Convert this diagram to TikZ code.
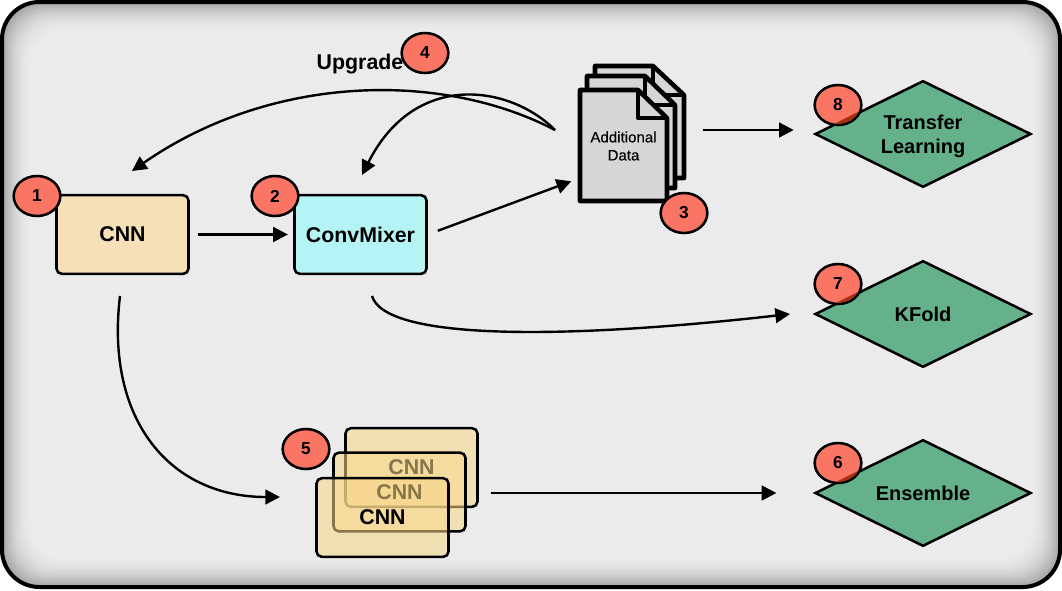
\documentclass[tikz,border=0pt]{standalone}
\usepackage{fontspec}
\setmainfont{Liberation Sans}
\newfontfamily\medfont[FakeBold=0.25]{Liberation Sans}
\usetikzlibrary{arrows.meta,shapes.geometric}

\definecolor{panelbg}{HTML}{EBEBEB}
\definecolor{cnnfill}{HTML}{F5E0B7}
\definecolor{stackfill}{HTML}{F8D78A}
\definecolor{mixerfill}{HTML}{B4F4F4}
\definecolor{badgefill}{HTML}{FB7564}
\definecolor{badgedark}{HTML}{A8300F}
\definecolor{diamondfill}{HTML}{64B18B}
\definecolor{pagefill}{HTML}{D6D6D6}

\tikzset{every picture/.style={line width=1.9pt}}
\tikzset{
	boxnode/.style={draw,rounded corners=4pt,minimum width=99pt,minimum height=59pt,inner sep=0pt,font=\bfseries\fontsize{16}{18}\selectfont},
	stacknode/.style={boxnode,fill=stackfill,fill opacity=0.55,text opacity=1},
	badgenode/.style={draw,fill=badgefill,ellipse,minimum width=35pt,minimum height=30pt,inner sep=0pt,font=\bfseries\fontsize{13}{15}\selectfont},
	choicenode/.style={draw,fill=diamondfill,diamond,aspect=2,minimum width=162pt,minimum height=80pt,inner sep=0pt,align=center,font=\bfseries\fontsize{15}{18}\selectfont},
	arrowline/.style={-{Triangle[length=11pt,width=11pt]},line width=1.8pt},
	pageline/.style={draw,fill=pagefill,line width=3.4pt,line join=round},
}

\begin{document}
\begin{tikzpicture}[x=0.75pt,y=0.75pt,yscale=-1,xscale=1]
	\useasboundingbox (0,0) rectangle (1062,590);

	%frame with its soft inner edge
	\fill[white] (0,0) rectangle (1062,590);
	\foreach \i in {0,...,15}{
		\pgfmathsetmacro{\shade}{30*(1-\i/15)*(1-\i/15)}
		\fill[black!\shade!panelbg,rounded corners=28pt] (2+2*\i,2+2*\i) rectangle (1060-2*\i,587-2*\i);
	}
	\draw[line width=3pt,rounded corners=28pt] (2,2) rectangle (1060,587);

	%pages
	\path[pageline] (595,66) -- (653,66) -- (684,95) -- (684,178) -- (595,178) -- cycle;
	\draw[line width=3.4pt,line join=round] (653,66) -- (653,95) -- (684,95);
	\path[pageline] (587,76) -- (645,76) -- (675,105) -- (675,188) -- (587,188) -- cycle;
	\draw[line width=3.4pt,line join=round] (645,76) -- (645,105) -- (675,105);
	\path[pageline] (580,90) -- (638,90) -- (667,118) -- (667,201) -- (580,201) -- cycle;
	\draw[line width=3.4pt,line join=round] (638,90) -- (638,118) -- (667,118);

	\node[align=center,inner sep=0pt,minimum width=65.25pt,font=\medfont\fontsize{11.3}{13.5}\selectfont] (data) at (623.5,146) {Additional\\Data};

	%free ends of the arrows
	\coordinate (dataout) at (555,130);
	\coordinate (datain) at (580,178);
	\coordinate (cnnin) at (132,171);
	\coordinate (cnnout) at (120,296);
	\coordinate (mixerin) at (362,175);
	\coordinate (mixerout) at (372,296);
	\coordinate (kfoldin) at (790,314);
	\coordinate (stackin) at (280,497);

	%boxes
	\node[boxnode,fill=cnnfill] (cnn) at (122.5,234.5) {\raisebox{-0.8pt}{CNN}};
	\node[boxnode,fill=mixerfill] (mixer) at (360.5,234.5) {ConvMixer};

	%stack of three
	\node[stacknode] (stackc) at (411.5,467.5) {\raisebox{-1.2pt}{CNN}};
	\node[stacknode] (stackb) at (399.5,492) {\raisebox{-1.2pt}{CNN}};
	\node[stacknode] (stacka) at (382.5,517.5) {\raisebox{-1.2pt}{CNN}};

	%end points
	\node[choicenode] (transfer) at (923,134) {\rule{0pt}{14pt}Transfer\\Learning};
	\node[choicenode] (kfold) at (923,314) {KFold};
	\node[choicenode] (ensemble) at (923,493) {Ensemble};

	\node[font=\bfseries\fontsize{16}{18}\selectfont,inner sep=0pt] (upgrade) at (360,64) {Upgrade};

	%badges
	\node[badgenode] (one) at (37,196) {1};
	\node[badgenode] (two) at (275,196) {2};
	\node[badgenode] (three) at (684,213) {3};
	\node[badgenode] (four) at (425,53) {4};
	\node[badgenode] (five) at (306,449) {5};
	\node[badgenode] (six) at (838,463) {6};
	\node[badgenode] (seven) at (838,284) {7};
	\node[badgenode] (eight) at (838,105) {8};

	%dark part of the badge over the diamond
	\foreach \b/\d in {six/ensemble,seven/kfold,eight/transfer}{
		\begin{scope}
			\clip (\d.west) -- (\d.north) -- (\d.east) -- (\d.south) -- cycle;
			\fill[badgedark] (\b) ellipse [x radius=16.5pt,y radius=14pt];
		\end{scope}
	}

	%arrows
	\draw[arrowline,shorten <=6.5pt,shorten >=4pt] (cnn) -- (mixer);
	\draw[arrowline,shorten <=8pt,shorten >=7pt] (mixer.east) -- (datain);
	\draw[arrowline,shorten <=26pt,shorten >=15pt] (data.east |- dataout) -- (dataout -| transfer.west);
	\draw[arrowline] (dataout) .. controls (440,70) and (270,75) .. (cnnin);
	\draw[arrowline] (dataout) .. controls (510,85) and (415,70) .. (mixerin);
	\draw[arrowline] (mixerout) .. controls (385,340) and (560,340) .. (kfoldin);
	\draw[arrowline] (cnnout) .. controls (105,420) and (170,497) .. (stackin);
	\draw[arrowline,shorten <=9pt,shorten >=28pt] (stackc.east |- ensemble) -- (ensemble.west);
\end{tikzpicture}
\end{document}
